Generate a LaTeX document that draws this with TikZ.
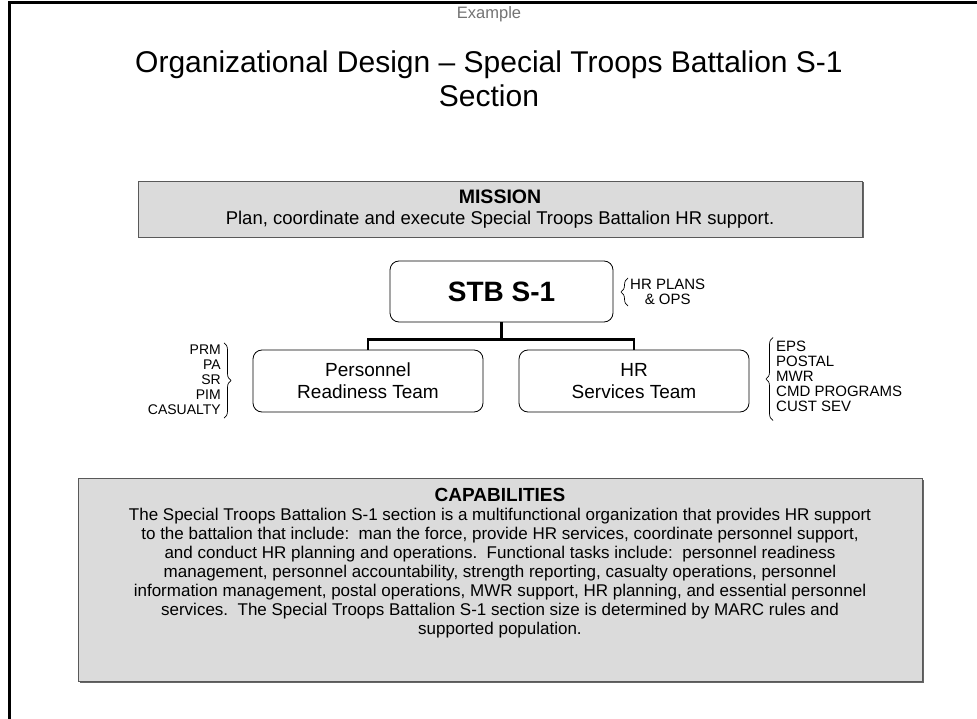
\documentclass[tikz,border=0pt]{standalone}
\usepackage{fontspec}
\setmainfont{Liberation Sans}
\usetikzlibrary{positioning,decorations.pathreplacing,shadows}

\newcommand{\fsz}[2]{\fontsize{#1}{#2}\selectfont}

\tikzset{
	graybox/.style={draw=black!65, fill=black!14, line width=0.8pt,
		drop shadow={shadow xshift=1.5pt, shadow yshift=-1.5pt, fill=black!60, opacity=1}},
	teambox/.style={draw, rounded corners=9pt, line width=0.8pt, align=center,
		minimum width=230pt, minimum height=62pt},
	orgline/.style={line width=2.6pt},
	tag/.style={inner sep=0pt},
	curly/.style={decorate, decoration={brace, amplitude=7pt}, line width=0.7pt}
}

\begin{document}
\begin{tikzpicture}[x=1pt,y=-1pt]
	\useasboundingbox (0,0) rectangle (977,719);
	% page frame
	\draw [line width=3pt] (977,3) -- (9.5,3) -- (9.5,719);

	% headings
	\node [text=black!55, font=\fsz{16.5}{18}] (example) at (489,14) {Example};
	\node [align=center, font=\fsz{30}{34}] (title) at (489,79)
		{Organizational Design -- Special Troops Battalion S-1\\Section};

	% mission
	\node [graybox, minimum width=724pt, minimum height=56pt] (mission) at (500,209) {};
	\node [align=center, font=\fsz{18.5}{21}] (missiontext) at (mission.center)
		{\fsz{19.5}{21}\textbf{MISSION}\\Plan, coordinate and execute Special Troops Battalion HR support.};

	% organization
	\node [teambox, minimum width=223pt, minimum height=61pt, font=\bfseries\fsz{28}{30}] (stb) at (501.5,291.5) {STB S-1};
	\node [teambox, font=\fsz{19}{22}] (prteam) at (368,381) {Personnel\\Readiness Team};
	\node [teambox, font=\fsz{19}{22}] (hrteam) at (634,381) {HR\\Services Team};
	\coordinate (fork) at ([yshift=-17pt]stb.south);
	\draw [orgline] (stb.south) -- (fork) -| (prteam.north);
	\draw [orgline] (fork) -| (hrteam.north);

	% functions
	\node [tag, align=center, anchor=west, font=\fsz{15}{15}] (plans) at (630,292) {HR PLANS\\\& OPS};
	\draw [curly] ([xshift=-2pt,yshift=-1pt]plans.south west) -- ([xshift=-2pt,yshift=1pt]plans.north west);
	\node [tag, align=right, anchor=east, font=\fsz{14}{15}] (prtasks) at (221,380) {PRM\\PA\\SR\\PIM\\CASUALTY};
	\draw [curly] ([xshift=3pt,yshift=2pt]prtasks.north east) -- ([xshift=3pt,yshift=-3pt]prtasks.south east);
	\node [tag, align=left, anchor=west, font=\fsz{15}{15}] (hrtasks) at (776,376) {EPS\\POSTAL\\MWR\\CMD PROGRAMS\\CUST SEV};
	\draw [curly] ([xshift=-3pt,yshift=-9pt]hrtasks.south west) -- ([xshift=-3pt,yshift=3pt]hrtasks.north west);

	% capabilities
	\node [graybox, minimum width=844pt, minimum height=203pt] (capbox) at (500,579.5) {};
	\node [align=center, font=\fsz{17}{19}] (captext) at ([yshift=16pt]capbox.center)
		{\fsz{19}{19}\textbf{CAPABILITIES}\\
		The Special Troops Battalion S-1 section is a multifunctional organization that provides HR support\\
		to the battalion that include:\ \ man the force, provide HR services, coordinate personnel support,\\
		and conduct HR planning and operations.\ \ Functional tasks include:\ \ personnel readiness\\
		management, personnel accountability, strength reporting, casualty operations, personnel\\
		information management, postal operations, MWR support, HR planning, and essential personnel\\
		services.\ \ The Special Troops Battalion S-1 section size is determined by MARC rules and\\
		supported population.};
\end{tikzpicture}
\end{document}
